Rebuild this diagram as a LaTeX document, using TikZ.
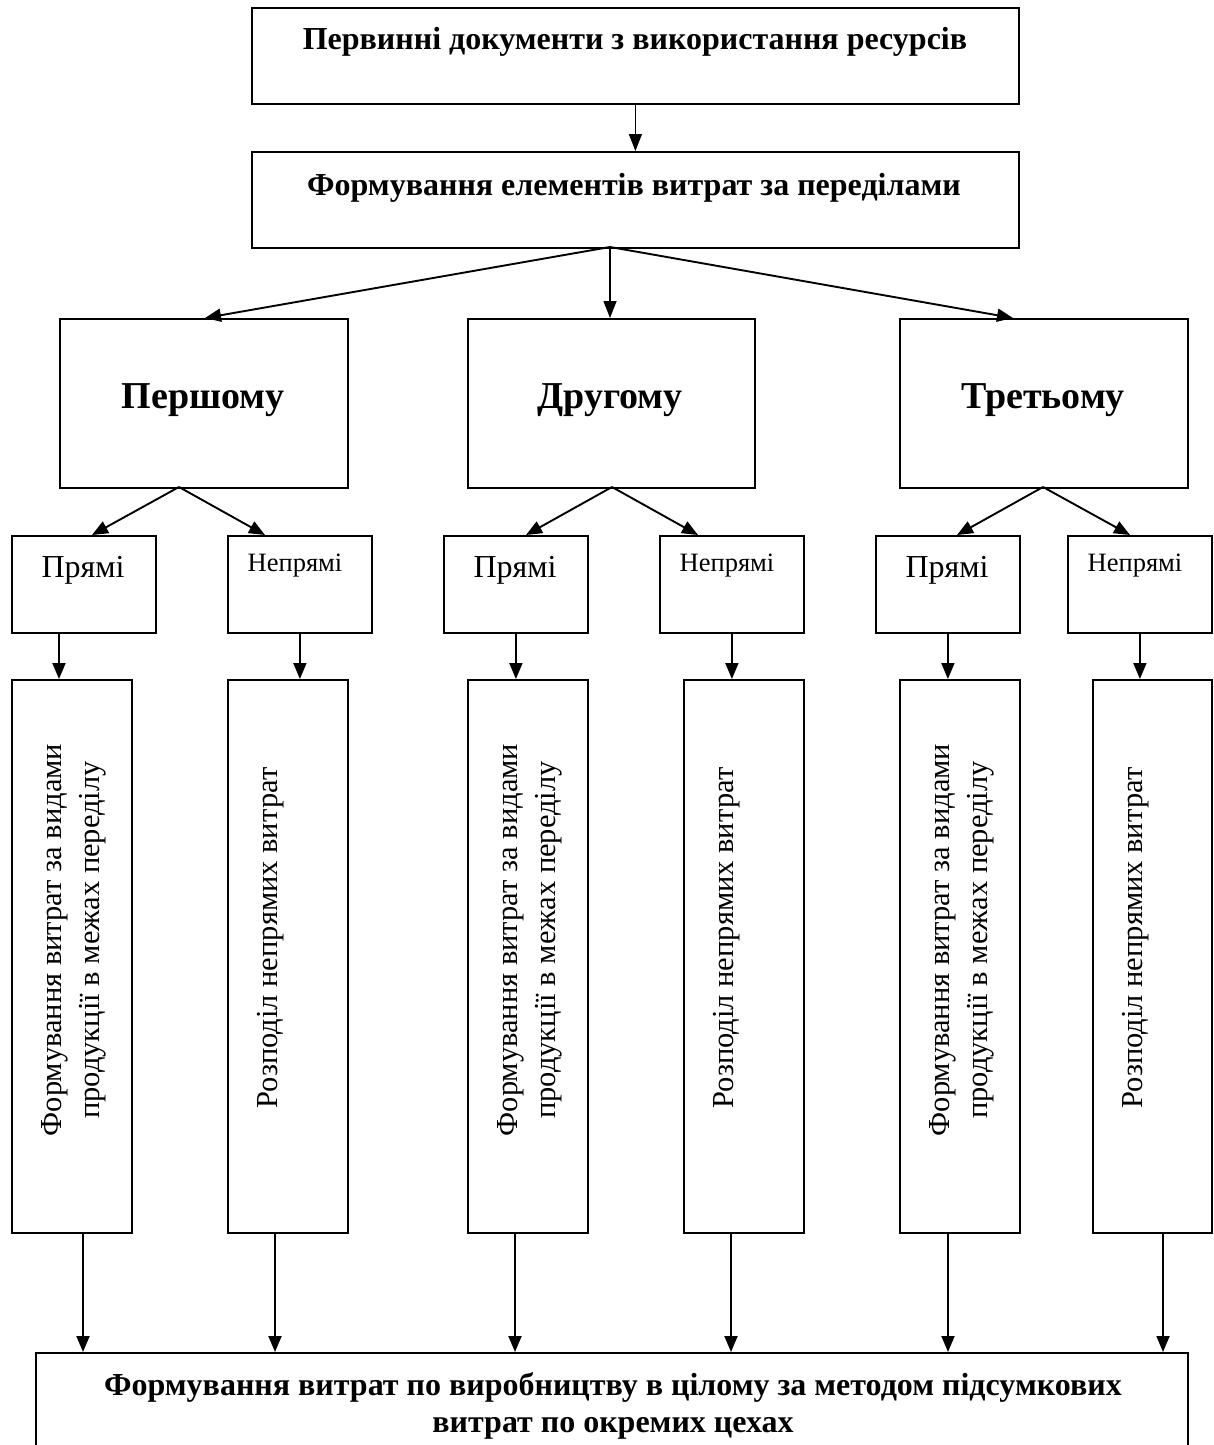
\documentclass[tikz,border=0pt]{standalone}
\usepackage{fontspec}
\setmainfont{Liberation Serif}
\usetikzlibrary{arrows.meta}
\begin{document}
\begin{tikzpicture}[x=1pt,y=-1pt,
  box/.style={draw, line width=1.8pt, inner sep=0pt, anchor=north west},
  arr/.style={-{Triangle[length=16pt,width=13pt]}, line width=1.9pt},
  arrthin/.style={-{Triangle[length=17pt,width=13pt]}, line width=1.4pt},
  titlefont/.style={font=\bfseries\fontsize{32}{37}\selectfont, inner sep=0pt},
  bigfont/.style={font=\bfseries\fontsize{38}{44}\selectfont, inner sep=0pt},
  pryami/.style={font=\fontsize{32}{37}\selectfont, inner sep=0pt, anchor=base},
  nepryami/.style={font=\fontsize{26.5}{31}\selectfont, inner sep=0pt, anchor=base},
  rot/.style={rotate=90, font=\fontsize{30.5}{38}\selectfont, inner sep=0pt}
]
\useasboundingbox (0,0) rectangle (1213,1445);
\fill[white] (0,0) rectangle (1213,1445);

% top boxes
\node[box, minimum width=767pt, minimum height=96pt] (top) at (251,7) {};
\node[titlefont, anchor=base] (topx) at (635,49) {Первинні документи з використання ресурсів};
\node[box, minimum width=767pt, minimum height=96pt] (mid) at (251,151) {};
\node[titlefont, anchor=base] (midx) at (634,195) {Формування елементів витрат за переділами};

% level 3
\node[box, minimum width=288pt, minimum height=169pt] (P1) at (59,318) {};
\node[box, minimum width=287pt, minimum height=169pt] (P2) at (467,318) {};
\node[box, minimum width=288pt, minimum height=169pt] (P3) at (899,318) {};
\node[bigfont, anchor=base] (P1x) at (203,408) {Першому};
\node[bigfont, anchor=base] (P2x) at (610,408) {Другому};
\node[bigfont, anchor=base] (P3x) at (1043,408) {Третьому};

% small boxes
\node[box, minimum width=144pt, minimum height=97pt] (A1s) at (11,535) {};
\node[box, minimum width=144pt, minimum height=97pt] (A2s) at (227,535) {};
\node[box, minimum width=144pt, minimum height=97pt] (B1s) at (443,535) {};
\node[box, minimum width=144pt, minimum height=97pt] (B2s) at (659,535) {};
\node[box, minimum width=144pt, minimum height=97pt] (C1s) at (875,535) {};
\node[box, minimum width=144pt, minimum height=97pt] (C2s) at (1067,535) {};
\node[pryami] (A1sx) at (83,577) {Прямі};
\node[pryami] (B1sx) at (515,577) {Прямі};
\node[pryami] (C1sx) at (947,577) {Прямі};
\node[nepryami] (A2sx) at (295,571) {Непрямі};
\node[nepryami] (B2sx) at (727,571) {Непрямі};
\node[nepryami] (C2sx) at (1135,571) {Непрямі};

% tall boxes
\node[box, minimum width=120pt, minimum height=553pt] (A1t) at (11,679) {};
\node[box, minimum width=120pt, minimum height=553pt] (A2t) at (227,679) {};
\node[box, minimum width=120pt, minimum height=553pt] (B1t) at (467,679) {};
\node[box, minimum width=120pt, minimum height=553pt] (B2t) at (683,679) {};
\node[box, minimum width=120pt, minimum height=553pt] (C1t) at (899,679) {};
\node[box, minimum width=119pt, minimum height=553pt] (C2t) at (1092,679) {};
\node[rot, align=center] (A1tx) at (74,940) {Формування витрат за видами\\продукції в межах переділу};
\node[rot, align=center] (B1tx) at (530,940) {Формування витрат за видами\\продукції в межах переділу};
\node[rot, align=center] (C1tx) at (962,940) {Формування витрат за видами\\продукції в межах переділу};
\node[rot, anchor=base] (A2tx) at (277,938) {Розподіл непрямих витрат};
\node[rot, anchor=base] (B2tx) at (733,938) {Розподіл непрямих витрат};
\node[rot, anchor=base] (C2tx) at (1142,938) {Розподіл непрямих витрат};

% bottom box
\node[box, minimum width=1152pt, minimum height=130pt] (bot) at (35,1352) {};
\node[titlefont, anchor=base] (botx1) at (613,1395) {Формування витрат по виробництву в цілому за методом підсумкових};
\node[titlefont, anchor=base] (botx2) at (613,1432) {витрат по окремих цехах};

% coordinates for off-centre connector ends
\coordinate (f0) at (610,247);
\coordinate (t1) at (205,318);
\coordinate (t3) at (1013,318);
\coordinate (g1) at (179,487);
\coordinate (g1a) at (92,535);
\coordinate (g1b) at (265,535);
\coordinate (g2) at (612,487);
\coordinate (g2a) at (526,535);
\coordinate (g2b) at (698,535);
\coordinate (g3) at (1043,487);
\coordinate (g3a) at (957,535);
\coordinate (g3b) at (1130,535);
\coordinate (h1) at (59,632);
\coordinate (b1) at (83,1232);
\coordinate (b2) at (275,1232);
\coordinate (b3) at (515,1232);
\coordinate (b4) at (731,1232);
\coordinate (b5) at (948,1232);
\coordinate (b6) at (1163,1232);

% connectors
\draw[arrthin] (top.south) -- (mid.north);
\draw[arr] (f0) -- (t1);
\draw[arrthin] (f0) -- (f0 |- P2.north);
\draw[arr] (f0) -- (t3);

\draw[arr] (g1) -- (g1a);
\draw[arr] (g1) -- (g1b);
\draw[arr] (g2) -- (g2a);
\draw[arr] (g2) -- (g2b);
\draw[arr] (g3) -- (g3a);
\draw[arr] (g3) -- (g3b);

\draw[arr] (h1) -- (h1 |- A1t.north);
\draw[arr] (A2s.south) -- (A2s.south |- A2t.north);
\draw[arr] (B1s.south) -- (B1s.south |- B1t.north);
\draw[arr] (B2s.south) -- (B2s.south |- B2t.north);
\draw[arr] (C1s.south) -- (C1s.south |- C1t.north);
\draw[arr] (C2s.south) -- (C2s.south |- C2t.north);

\draw[arr] (b1) -- (b1 |- bot.north);
\draw[arr] (b2) -- (b2 |- bot.north);
\draw[arr] (b3) -- (b3 |- bot.north);
\draw[arr] (b4) -- (b4 |- bot.north);
\draw[arr] (b5) -- (b5 |- bot.north);
\draw[arr] (b6) -- (b6 |- bot.north);
\end{tikzpicture}
\end{document}
